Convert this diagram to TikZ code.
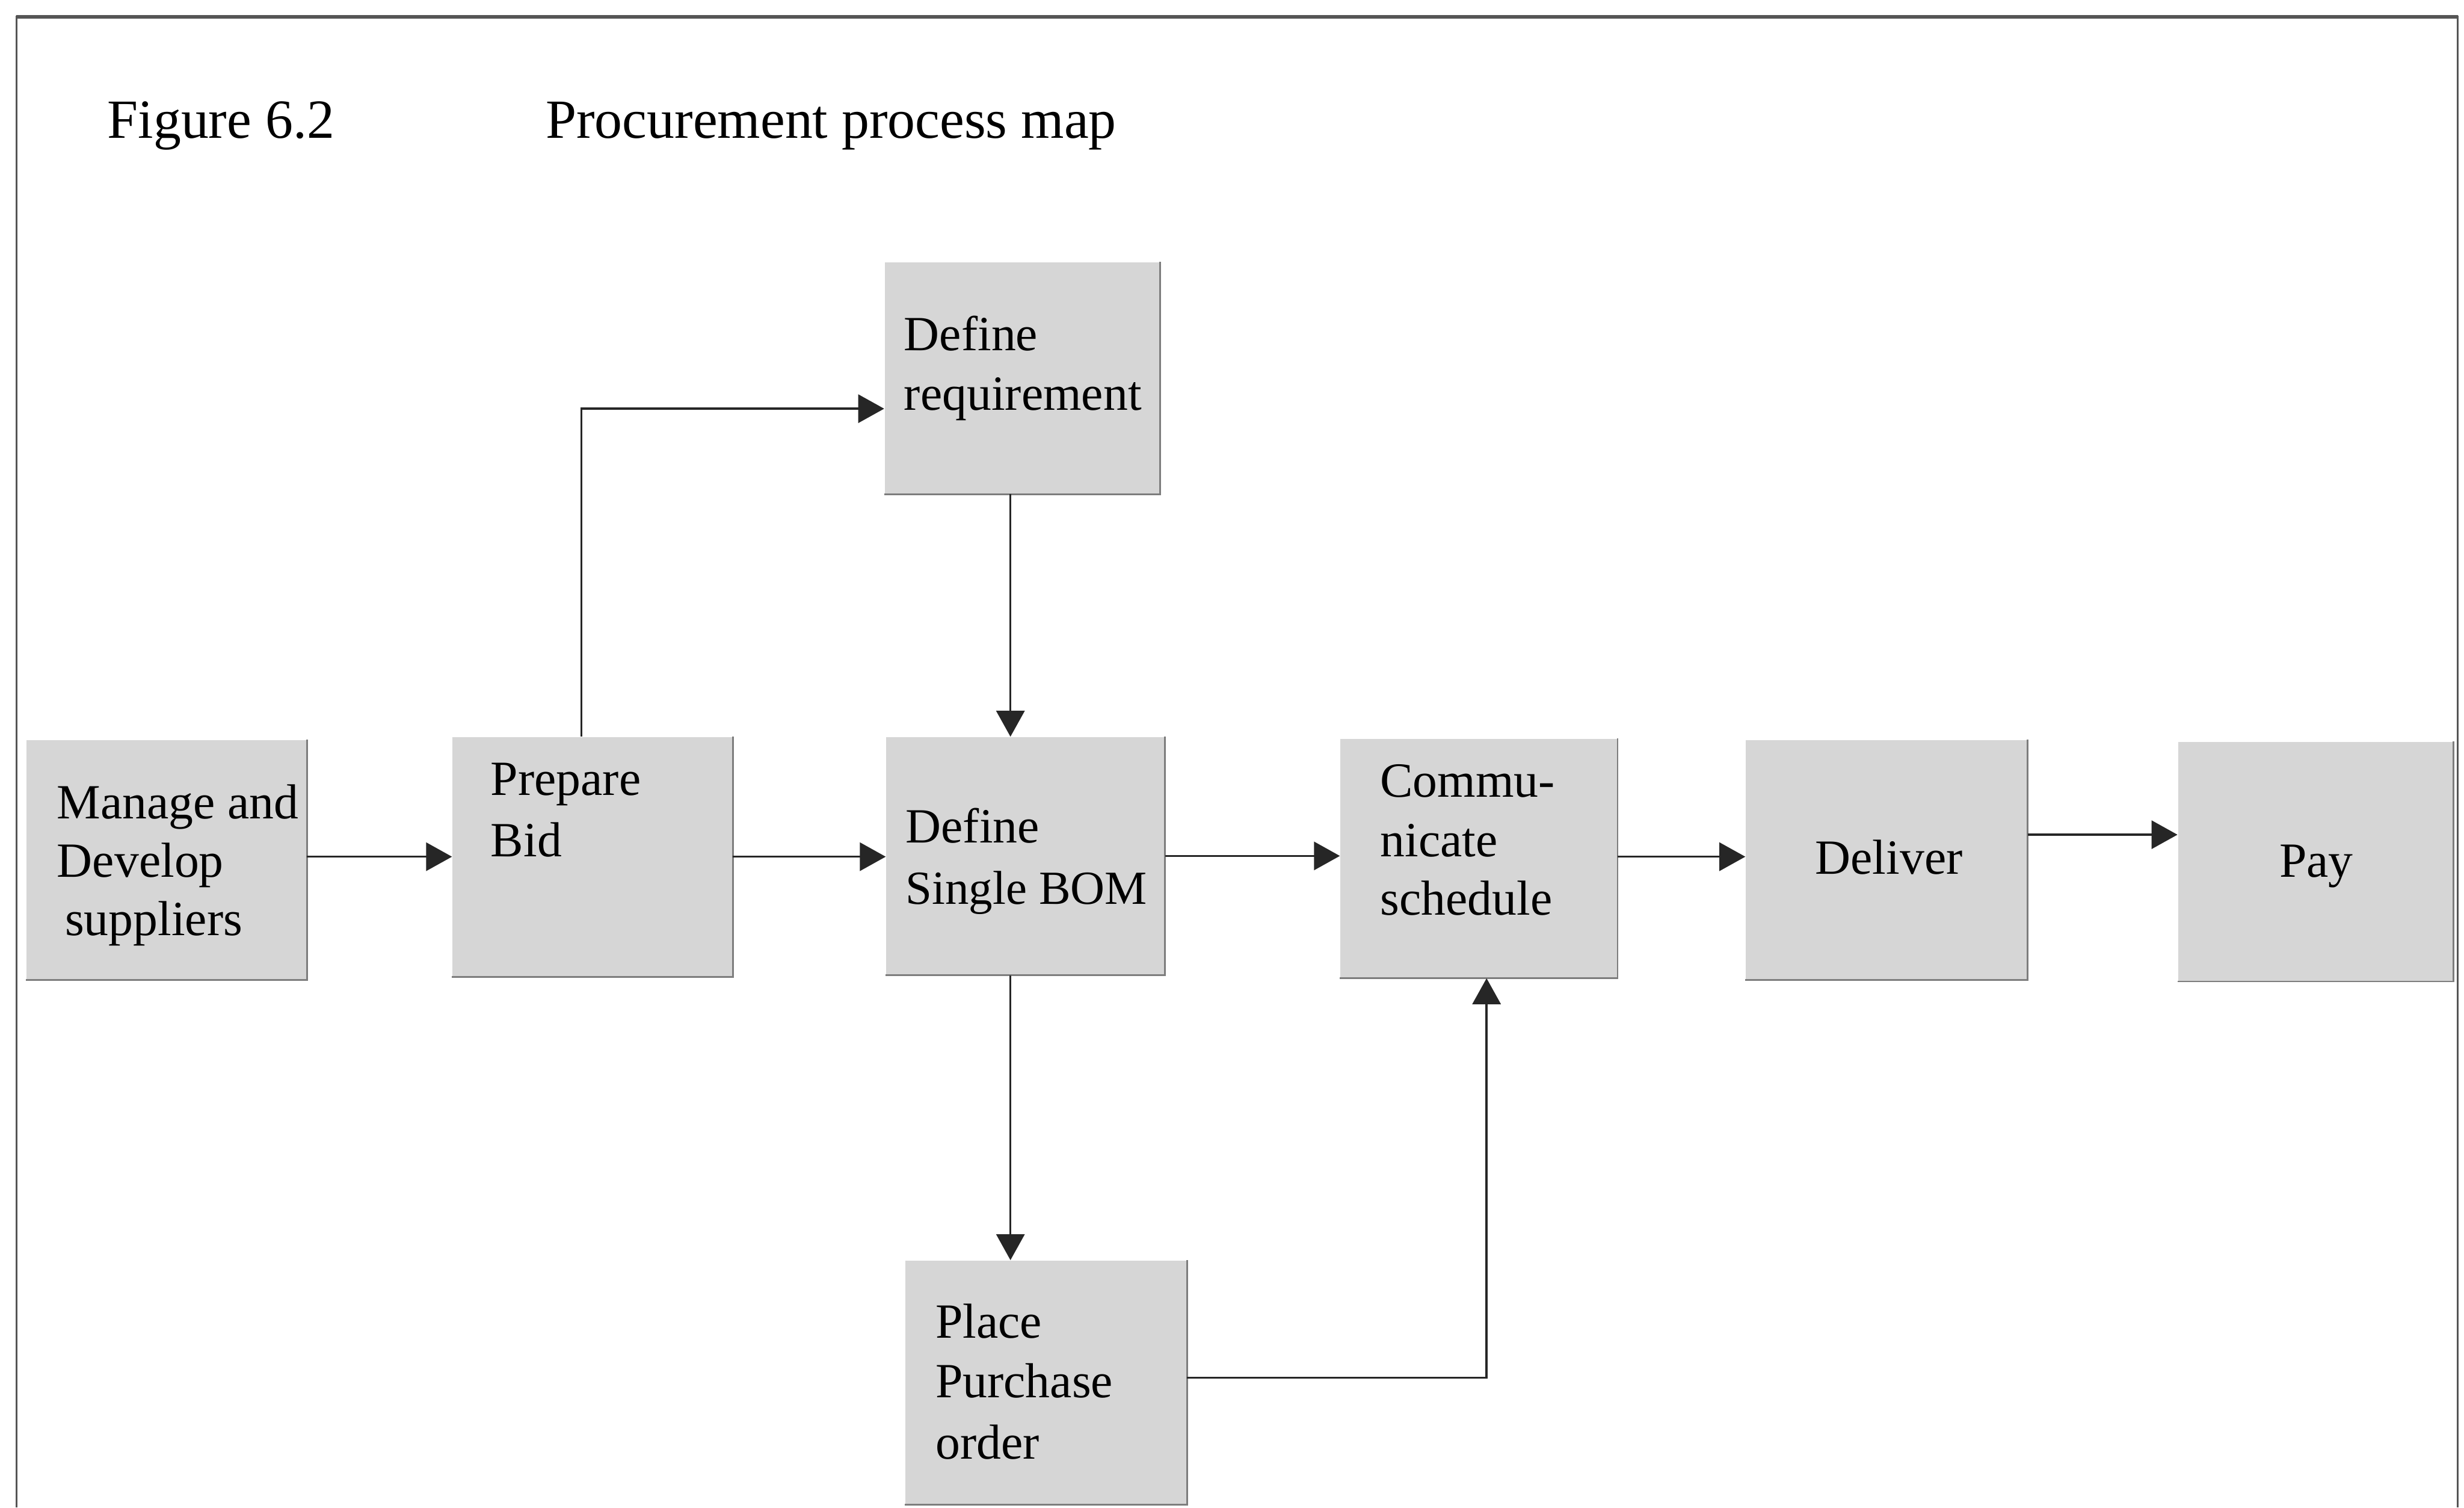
\documentclass[tikz,border=0pt]{standalone}
\usepackage{fontspec}
\setmainfont{Liberation Serif}
\usetikzlibrary{arrows.meta,fit}

\definecolor{boxfill}{RGB}{214,214,214}
\definecolor{boxedge}{RGB}{125,125,125}
\definecolor{framegray}{RGB}{85,85,85}

% a shaded process step: fill plus a darker right and bottom edge
\newcommand\procstep[5]{%
  \node[procbox,fit={(#2,#3)(#4,#5)}] (#1) {};
  \draw[boxline] (#1.north east) -- (#1.south east) -- (#1.south west);}

\begin{document}
\begin{tikzpicture}[x=0.02cm,y=-0.02cm,
  procbox/.style={rectangle,fill=boxfill,draw=none,inner sep=0pt},
  boxline/.style={draw=boxedge,line width=0.6pt},
  frameline/.style={draw=framegray,line width=0.8pt},
  arr/.style={draw=black!85,line width=0.75pt,-{Triangle[length=0.33cm,width=0.36cm]}},
  lbl/.style={anchor=base west,inner sep=0pt,font=\fontsize{17.8}{21}\selectfont},
  clbl/.style={lbl,anchor=base},
  ttl/.style={anchor=base west,inner sep=0pt,font=\fontsize{20}{24}\selectfont}]

\useasboundingbox (0,0) rectangle (1568,959);
\fill[white] (0,0) rectangle (1568,959);

% page frame (open at the bottom)
\draw[frameline] (10.5,959) -- (10.5,10.6) -- (1564,10.6) -- (1564,959);
\draw[frameline,line width=1.3pt] (10.5,10.6) -- (1564,10.6);

% caption
\node[ttl] (fignum) at (68,88) {Figure 6.2};
\node[ttl] (figttl) at (347,88) {Procurement process map};

% process steps
\procstep{mng}{17}{471}{195}{623}
\procstep{bid}{288}{469}{466}{621}
\procstep{req}{563}{167}{738}{314}
\procstep{bom}{564}{469}{741}{620}
\procstep{com}{853}{470}{1029}{622}
\procstep{del}{1111}{471}{1290}{623}
\procstep{pay}{1386}{472}{1561}{624}
\procstep{po}{576}{802}{755}{957}

% step labels
\node[lbl] (mng1) at (36,521) {Manage and};
\node[lbl] (mng2) at (36,558) {Develop};
\node[lbl] (mng3) at (41,595) {suppliers};

\node[lbl] (bid1) at (312,506) {Prepare};
\node[lbl] (bid2) at (312,545) {Bid};

\node[lbl] (req1) at (575,223) {Define};
\node[lbl] (req2) at (575,261) {requirement};

\node[lbl] (bom1) at (576,536) {Define};
\node[lbl,font=\fontsize{17.2}{21}\selectfont] (bom2) at (576,575) {Single BOM};

\node[lbl] (com1) at (878,507) {Commu-};
\node[lbl] (com2) at (878,545) {nicate};
\node[lbl] (com3) at (878,582) {schedule};

\node[clbl] (del1) at (1202,556) {Deliver};
\node[clbl] (pay1) at (1474,558) {Pay};

\node[lbl] (po1) at (595,851) {Place};
\node[lbl] (po2) at (595,889) {Purchase};
\node[lbl] (po3) at (595,928) {order};

% connectors
\draw[arr] ([yshift=0.04cm]mng.east) -- ([yshift=0.04cm]mng.east -| bid.west);
\draw[arr] (bid.east) -- (bid.east -| bom.west);
\draw[arr] (bom.east) -- (bom.east -| com.west);
\draw[arr] ([yshift=0.02cm]com.east) -- ([yshift=0.02cm]com.east -| del.west);
\draw[arr] ([yshift=0.32cm]del.east) -- ([yshift=0.32cm]del.east -| pay.west);

\draw[arr] ([xshift=-0.14cm]bid.north) |- ([yshift=-0.39cm]req.west);
\draw[arr] ([xshift=-0.15cm]req.south) -- ([xshift=-0.15cm]req.south |- bom.north);
\draw[arr] ([xshift=-0.19cm]bom.south) -- ([xshift=-0.19cm]bom.south |- po.north);
\draw[arr] ([yshift=0.06cm]po.east) -| ([xshift=0.1cm]com.south);

\end{tikzpicture}
\end{document}
